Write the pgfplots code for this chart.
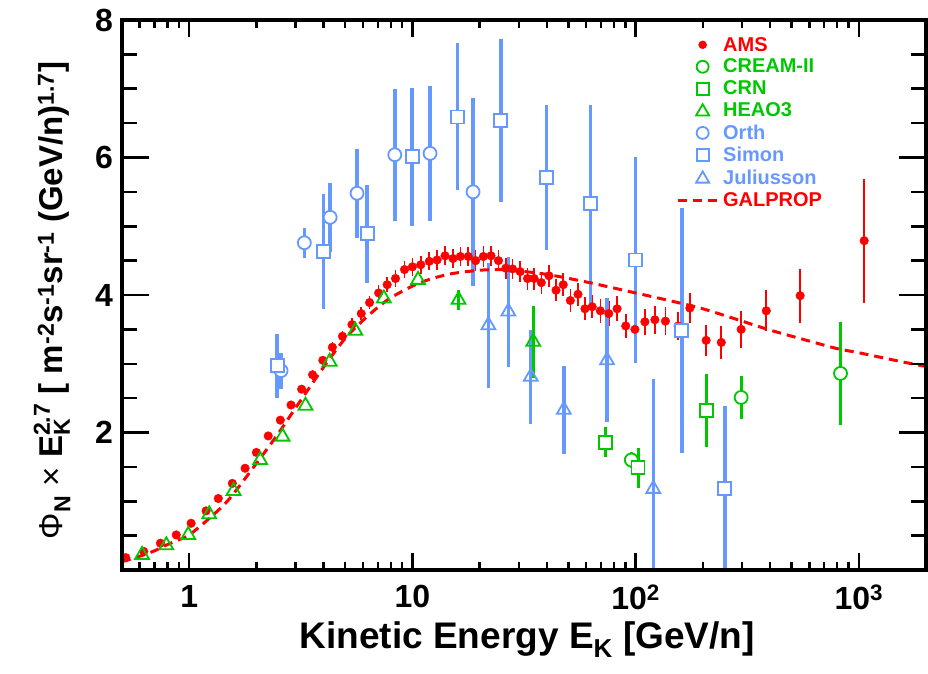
\documentclass[border=0pt]{standalone}
\usepackage{amsmath}
\usepackage{fontspec}
\setmainfont{Liberation Sans}
\usepackage{pgfplots}
\pgfplotsset{compat=1.18}
\usepackage{pgfplotstable}
\definecolor{amsred}{RGB}{255,0,0}
\definecolor{dgreen}{RGB}{0,200,0}
\definecolor{lblue}{RGB}{102,153,255}

\pgfplotstableread{
x y e
0.52 0.18 0.03
0.626 0.27 0.03
0.743 0.39 0.03
0.875 0.51 0.03
1.02 0.68 0.04
1.19 0.86 0.04
1.35 1.04 0.04
1.56 1.26 0.05
1.78 1.48 0.05
2.0 1.71 0.05
2.26 1.95 0.05
2.56 2.18 0.06
2.86 2.40 0.06
3.19 2.63 0.06
3.57 2.84 0.07
3.97 3.05 0.07
4.38 3.24 0.08
4.86 3.40 0.08
5.36 3.57 0.09
5.90 3.73 0.09
6.43 3.89 0.10
7.06 4.03 0.11
7.71 4.15 0.11
8.4 4.24 0.12
9.22 4.37 0.12
10.0 4.41 0.13
10.9 4.44 0.13
11.9 4.49 0.13
12.9 4.51 0.14
14.0 4.57 0.14
15.2 4.53 0.14
16.4 4.56 0.14
17.8 4.56 0.14
19.2 4.50 0.15
20.8 4.56 0.15
22.5 4.57 0.15
24.3 4.50 0.15
26.2 4.39 0.15
28.1 4.38 0.15
30.4 4.34 0.15
32.8 4.24 0.16
35.1 4.24 0.16
37.8 4.18 0.16
40.9 4.28 0.16
44.0 4.07 0.16
47.4 4.15 0.17
51.0 3.92 0.17
55.2 4.01 0.17
59.3 3.80 0.17
63.9 3.83 0.17
69.5 3.77 0.17
75.8 3.73 0.18
82.6 3.80 0.18
90.3 3.55 0.18
99.3 3.50 0.19
110 3.61 0.19
122 3.64 0.20
136 3.62 0.20
155 3.55 0.21
175 3.81 0.22
207 3.34 0.23
242 3.31 0.24
297 3.50 0.27
385 3.77 0.30
546 3.99 0.39
1057 4.79 0.90
}\ams

\pgfplotstableread{
x y e
95.7 1.60 0.12
297 2.51 0.31
828 2.86 0.75
}\cream

\pgfplotstableread{
x y e
73.3 1.86 0.22
102.5 1.49 0.29
207 2.32 0.53
}\crn

\pgfplotstableread{
x y e
0.615 0.22 0
0.79 0.36 0
0.99 0.51 0
1.23 0.81 0
1.58 1.15 0
2.08 1.60 0
2.62 1.94 0
3.32 2.39 0
4.26 3.03 0
5.55 3.48 0
7.45 3.95 0
10.6 4.22 0
16.1 3.93 0.15
34.8 3.32 0.52
}\heao

\pgfplotstableread{
x y e
2.58 2.90 0.26
3.28 4.76 0.22
4.28 5.13 0.50
5.65 5.48 0.65
8.34 6.04 0.96
12.0 6.06 0.98
18.7 5.50 1.37
}\orth

\pgfplotstableread{
x y e
2.48 2.97 0.47
3.99 4.63 0.84
6.27 4.89 0.71
9.98 6.01 1.00
15.9 6.59 1.07
24.9 6.54 1.19
39.8 5.71 1.06
62.8 5.33 1.44
99.7 4.51 1.50
161 3.48 1.78
251 1.18 1.20
}\simon

\pgfplotstableread{
x y e
21.9 3.56 0.91
26.9 3.76 0.80
33.9 2.81 0.68
47.7 2.33 0.64
74.5 3.05 0.90
120 1.18 1.60
}\juli

\pgfplotstableread{
x y
0.5 0.12
0.6 0.20
0.7 0.28
0.8 0.37
0.9 0.44
1.0 0.51
1.2 0.72
1.5 1.02
2.0 1.55
2.5 1.98
3.0 2.36
4 2.95
5 3.37
6 3.63
7 3.82
8 3.96
10 4.13
12 4.23
15 4.31
20 4.36
25 4.37
30 4.35
40 4.30
60 4.19
100 4.03
150 3.90
200 3.80
300 3.62
400 3.49
600 3.33
800 3.22
1000 3.16
1500 3.04
2000 2.96
}\galprop

\begin{document}
\begin{tikzpicture}
\begin{axis}[scale only axis, width=804pt, height=550pt, xmode=log,
  xmin=0.5, xmax=2000, ymin=0, ymax=8,
  axis line style={line width=4pt, black},
  every tick/.style={black, line width=2.5pt}, tick align=inside,
  xtick={1,10,100,1000},
  xticklabels={1,10,10$^{\textbf{2}}$,10$^{\textbf{3}}$},
  minor xtick={0.6,0.7,0.8,0.9,2,3,4,5,6,7,8,9,20,30,40,50,60,70,80,90,200,300,400,500,600,700,800,900},
  ytick=\empty,
  major tick length=17pt, minor tick length=8pt,
  xticklabel style={font=\fontsize{32}{36}\selectfont\bfseries, inner sep=0pt, yshift=-15pt},
  xlabel={Kinetic Energy E$_{\textbf{K}}$ [GeV/n]},
  xlabel style={font=\fontsize{37}{42}\selectfont\bfseries, at={(axis description cs:0.504,-0.142)}, anchor=base},
  legend cell align=left,
  legend style={at={(axis description cs:0.689,0.973)}, anchor=north west, draw=none, fill=none,
    inner sep=0pt, font=\fontsize{20}{23}\selectfont\bfseries, row sep=2.5pt,
    /tikz/every even column/.append style={column sep=11pt}},
]
\addplot[only marks, mark=*, mark size=4.3pt, color=amsred,
  legend image code/.code={\path (0pt,-6pt) (42pt,6pt); \draw[amsred, mark=*, mark size=4pt] plot coordinates {(25pt,0pt)};},
  error bars/.cd, y dir=both, y explicit, error mark=none, error bar style={line width=1.6pt}]
  table[x=x,y=y,y error=e] {\ams};
\addlegendentry{\textcolor{amsred}{AMS}}
\addplot[only marks, mark=*, mark size=6.5pt, color=dgreen, mark options={fill=white, line width=1.8pt},
  legend image code/.code={\path (0pt,-6pt) (42pt,6pt); \draw[dgreen, mark=*, mark size=6pt, mark options={fill=white, line width=1.8pt}] plot coordinates {(25pt,0pt)};},
  error bars/.cd, y dir=both, y explicit, error mark=none, error bar style={line width=3pt}]
  table[x=x,y=y,y error=e] {\cream};
\addlegendentry{\textcolor{dgreen}{CREAM-II}}
\addplot[only marks, mark=square*, mark size=6.5pt, color=dgreen, mark options={fill=white, line width=1.8pt},
  legend image code/.code={\path (0pt,-6pt) (42pt,6pt); \draw[dgreen, mark=square*, mark size=6pt, mark options={fill=white, line width=1.8pt}] plot coordinates {(25pt,0pt)};},
  error bars/.cd, y dir=both, y explicit, error mark=none, error bar style={line width=3pt}]
  table[x=x,y=y,y error=e] {\crn};
\addlegendentry{\textcolor{dgreen}{CRN}}
\addplot[only marks, mark=triangle, mark size=8pt, color=dgreen, mark options={line width=1.8pt},
  legend image code/.code={\path (0pt,-6pt) (42pt,6pt); \draw[dgreen, mark=triangle, mark size=7.5pt, mark options={line width=1.8pt}] plot coordinates {(25pt,-1pt)};},
  error bars/.cd, y dir=both, y explicit, error mark=none, error bar style={line width=3pt}]
  table[x=x,y=y,y error=e] {\heao};
\addlegendentry{\textcolor{dgreen}{HEAO3}}
\addplot[only marks, mark=*, mark size=6.5pt, color=lblue, mark options={fill=white, line width=1.8pt},
  legend image code/.code={\path (0pt,-6pt) (42pt,6pt); \draw[lblue, mark=*, mark size=6pt, mark options={fill=white, line width=1.8pt}] plot coordinates {(25pt,0pt)};},
  error bars/.cd, y dir=both, y explicit, error mark=none, error bar style={line width=3.5pt}]
  table[x=x,y=y,y error=e] {\orth};
\addlegendentry{\textcolor{lblue}{Orth}}
\addplot[only marks, mark=square*, mark size=6.5pt, color=lblue, mark options={fill=white, line width=1.8pt},
  legend image code/.code={\path (0pt,-6pt) (42pt,6pt); \draw[lblue, mark=square*, mark size=6pt, mark options={fill=white, line width=1.8pt}] plot coordinates {(25pt,0pt)};},
  error bars/.cd, y dir=both, y explicit, error mark=none, error bar style={line width=3.5pt}]
  table[x=x,y=y,y error=e] {\simon};
\addlegendentry{\textcolor{lblue}{Simon}}
\addplot[only marks, mark=triangle, mark size=8pt, color=lblue, mark options={line width=1.8pt},
  legend image code/.code={\path (0pt,-6pt) (42pt,6pt); \draw[lblue, mark=triangle, mark size=7.5pt, mark options={line width=1.8pt}] plot coordinates {(25pt,-1pt)};},
  error bars/.cd, y dir=both, y explicit, error mark=none, error bar style={line width=3.5pt}]
  table[x=x,y=y,y error=e] {\juli};
\addlegendentry{\textcolor{lblue}{Juliusson}}
\addplot[no marks, color=amsred, line width=3pt, dash pattern=on 9pt off 6pt, smooth,
  legend image code/.code={\path (0pt,-6pt) (42pt,6pt); \draw[amsred, line width=3pt, dash pattern=on 9pt off 6pt] (0pt,0pt) -- (41pt,0pt);}]
  table[x=x,y=y] {\galprop};
\addlegendentry{\textcolor{amsred}{GALPROP}}
\end{axis}
\begin{axis}[scale only axis, width=804pt, height=550pt, xmode=log,
  xmin=0.5, xmax=2000, ymin=0, ymax=8,
  axis line style={line width=4pt, black},
  every tick/.style={black, line width=2.5pt}, tick align=inside,
  xtick=\empty, minor xtick={},
  ytick={0,2,4,6,8}, yticklabels={{},2,4,6,8},
  minor ytick={0.5,1,1.5,2.5,3,3.5,4.5,5,5.5,6.5,7,7.5},
  major tick length=27pt, minor tick length=15pt,
  yticklabel style={font=\fontsize{32}{36}\selectfont\bfseries, inner sep=0pt, xshift=-9pt},
  ylabel={{\mdseries Φ}$_{\textbf{N}}$ {\mdseries ×} $\textbf{E}^{\textbf{2.7}}_{\textbf{K}}$ [ m$^{\textbf{-2}}$s$^{\textbf{-1}}$sr$^{\textbf{-1}}$ (GeV/n)$^{\textbf{1.7}}$]},
  ylabel style={font=\fontsize{33}{38}\selectfont\bfseries, at={(axis description cs:-0.087,0.49)}, anchor=center},
]
\addplot[draw=none, forget plot] table[x=x,y=y] {\galprop};
\end{axis}
\pgfresetboundingbox
\useasboundingbox (-122pt,-103pt) rectangle (806pt,570pt);
\end{tikzpicture}
\end{document}
